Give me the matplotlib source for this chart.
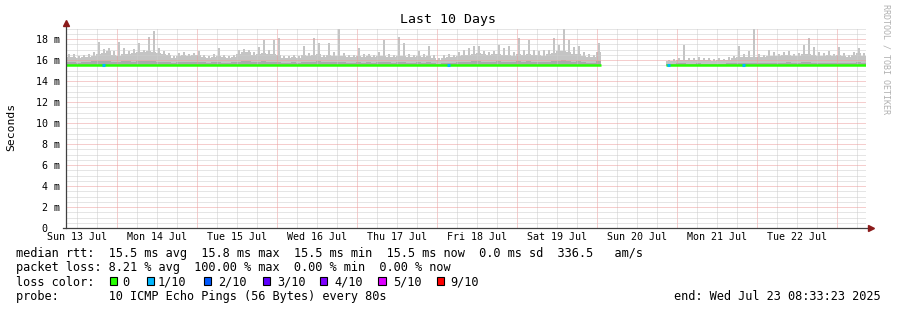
import numpy as np
import matplotlib
matplotlib.use("Agg")
import matplotlib.pyplot as plt
from matplotlib.patches import Rectangle

W, H = 897, 310
FONT = "DejaVu Sans Mono"

# time axis: hours since Sun 13 Jul 00:00, graph ends Wed 23 Jul 08:33:23
END_H = 10 * 24 + 8 + 33 / 60 + 23 / 3600
START_H = END_H - 240
STEP_H = 1.5
SEG2_FIRST = 120  # index of first step after the data gap

# smoke (ms) per 1.5 h step, first block (Jul 13 08:33 -> Jul 20 ~01:00)
seg1_top = [16.3, 16.3, 16.2, 16.3, 16.3, 16.4, 16.6, 16.7, 16.9, 16.5,
            16.4, 16.6, 16.6, 16.7, 16.8, 16.8, 16.9, 16.8, 16.7, 16.6,
            16.5, 16.2, 16.4, 16.5, 16.4, 16.5, 16.5, 16.3, 16.2, 16.3,
            16.4, 16.3, 16.2, 16.3, 16.6, 16.8, 16.8, 16.5, 16.6, 16.7,
            16.6, 16.6, 16.5, 16.2, 16.2, 16.3, 16.2, 16.5, 16.4, 16.5,
            16.6, 16.3, 16.5, 16.4, 16.4, 16.4, 16.3, 16.3, 16.4, 16.3,
            16.4, 16.3, 16.4, 16.4, 16.3, 16.3, 16.4, 16.4, 16.3, 16.3,
            16.4, 16.3, 16.4, 16.2, 16.0, 16.2, 16.3, 16.3, 16.4, 16.5,
            16.5, 16.6, 16.7, 16.6, 16.5, 16.6, 16.6, 16.5, 16.5, 16.4,
            16.6, 16.5, 16.6, 16.5, 16.5, 16.4, 16.6, 16.7, 16.9, 16.9,
            16.8, 16.6, 16.6, 16.4, 16.3, 16.3, 16.8]
seg1_spike = [16.6, 16.6, 16.4, 16.5, 16.6, 16.8, 17.7, 17.0, 17.1, 16.9,
              17.7, 17.1, 16.9, 17.0, 17.6, 17.0, 18.2, 18.8, 17.1, 16.9,
              16.7, 16.4, 16.7, 16.8, 16.6, 16.7, 16.9, 16.5, 16.4, 16.6,
              17.1, 16.5, 16.4, 16.5, 17.0, 17.05, 17.0, 16.8, 17.2, 17.9,
              17.0, 17.9, 18.1, 16.4, 16.4, 16.5, 16.4, 17.3, 16.7, 18.1,
              17.6, 16.5, 17.6, 16.8, 19.0, 16.7, 16.5, 16.5, 17.1, 16.6,
              16.6, 16.5, 16.8, 17.9, 16.6, 16.5, 18.2, 17.6, 16.6, 16.5,
              16.9, 16.6, 17.3, 16.5, 16.2, 16.5, 16.6, 16.5, 16.8, 17.0,
              17.1, 17.3, 17.3, 16.9, 16.8, 16.9, 17.4, 17.1, 17.3, 16.8,
              18.1, 17.0, 17.9, 17.0, 16.9, 17.0, 17.0, 18.1, 17.4, 19.0,
              17.9, 17.2, 17.3, 16.8, 16.6, 16.5, 17.6]
seg1_mid = [15.8, 15.8, 15.75, 15.8, 15.85, 15.9, 15.9, 15.95, 15.9, 15.85,
            15.8, 15.9, 15.9, 15.85, 15.9, 15.95, 15.9, 15.9, 15.85, 15.8,
            15.8, 15.75, 15.8, 15.85, 15.8, 15.8, 15.85, 15.8, 15.75, 15.8,
            15.8, 15.75, 15.75, 15.8, 15.85, 15.9, 15.9, 15.85, 15.85, 15.9,
            15.85, 15.85, 15.8, 15.75, 15.75, 15.8, 15.75, 15.85, 15.8, 15.85,
            15.9, 15.8, 15.85, 15.8, 15.85, 15.8, 15.75, 15.75, 15.8, 15.75,
            15.8, 15.75, 15.8, 15.85, 15.8, 15.75, 15.8, 15.85, 15.75, 15.75,
            15.8, 15.75, 15.8, 15.7, 15.65, 15.7, 15.75, 15.75, 15.8, 15.85,
            15.85, 15.9, 15.9, 15.85, 15.8, 15.85, 15.9, 15.85, 15.85, 15.8,
            15.9, 15.85, 15.9, 15.85, 15.8, 15.8, 15.85, 15.9, 15.95, 16.0,
            15.9, 15.85, 15.9, 15.8, 15.75, 15.75, 15.9]

# second block (Jul 20 ~21:00 -> end)
seg2_top = [15.9, 15.95, 16.0, 16.0, 16.0, 16.0, 16.0, 16.0, 16.0, 15.95,
            16.0, 16.0, 16.0, 16.2, 16.3, 16.3, 16.3, 16.3, 16.3, 16.3,
            16.4, 16.4, 16.4, 16.5, 16.5, 16.4, 16.4, 16.6, 16.6, 16.5,
            16.4, 16.4, 16.5, 16.4, 16.5, 16.4, 16.3, 16.5, 16.7, 16.4]
seg2_spike = [16.0, 16.1, 16.2, 17.4, 16.2, 16.2, 16.3, 16.2, 16.2, 16.1,
              16.2, 16.1, 16.3, 16.4, 17.3, 16.6, 16.9, 19.0, 16.6, 16.5,
              17.0, 16.8, 16.6, 16.8, 16.9, 16.6, 16.7, 17.4, 18.1, 17.2,
              16.8, 16.7, 16.9, 16.6, 17.2, 16.7, 16.5, 16.8, 17.1, 16.7]
seg2_mid = [15.65, 15.65, 15.7, 15.7, 15.65, 15.65, 15.7, 15.65, 15.65, 15.65,
            15.65, 15.65, 15.7, 15.7, 15.75, 15.75, 15.7, 15.75, 15.7, 15.7,
            15.75, 15.75, 15.7, 15.75, 15.8, 15.75, 15.75, 15.8, 15.8, 15.75,
            15.75, 15.7, 15.75, 15.7, 15.75, 15.7, 15.7, 15.75, 15.8, 15.75]

SMOKE_LOW = 15.45
MEDIAN_RTT = 15.55

# steps where 1 of 10 pings was lost
loss_steps = [7, 76, 120, 135]
loss_counts = [1, 1, 1, 1]

LOSS_COLORS = ["#26ff00", "#00b8ff", "#0059ff", "#5e00ff", "#7e00ff", "#dd00ff", "#ff0000"]
LOSS_LABELS = ["0", "1/10", "2/10", "3/10", "4/10", "5/10", "9/10"]
LOSS_COLOR_BY_COUNT = {0: 0, 1: 1, 2: 2, 3: 3, 4: 4, 5: 5, 9: 6}

day_names = ["Sun 13 Jul", "Mon 14 Jul", "Tue 15 Jul", "Wed 16 Jul", "Thu 17 Jul",
             "Fri 18 Jul", "Sat 19 Jul", "Sun 20 Jul", "Mon 21 Jul", "Tue 22 Jul"]

LIGHT = "#c4c4c4"
MID = "#aaaaaa"


def fx(x):
    return x / W


def fy(y):
    return 1 - y / H


def draw_segment(ax, first, top, spike, mid):
    n = len(top)
    edges = START_H + STEP_H * (first + np.arange(n + 1))
    top = np.asarray(top)
    spike = np.asarray(spike)
    mid = np.asarray(mid)
    ax.fill_between(edges, SMOKE_LOW, np.append(top, top[-1]), step="post",
                    color=LIGHT, lw=0, zorder=1)
    centers = edges[:-1] + STEP_H / 2
    up = spike > top
    ax.bar(centers[up], spike[up] - top[up], bottom=top[up], width=0.6,
           color=LIGHT, lw=0, zorder=1)
    ax.fill_between(edges, SMOKE_LOW, np.append(mid, mid[-1]), step="post",
                    color=MID, lw=0, zorder=1.5)
    ax.plot([edges[0], edges[-1]], [MEDIAN_RTT, MEDIAN_RTT], color=LOSS_COLORS[0],
            lw=1.8, solid_capstyle="butt", zorder=4)


fig = plt.figure(figsize=(W / 100, H / 100), dpi=100)
ax = fig.add_axes([fx(66), fy(228), 800 / W, (228 - 28.5) / H])
ax.set_xlim(START_H, END_H)
ax.set_ylim(0, 19.0)

draw_segment(ax, 0, seg1_top, seg1_spike, seg1_mid)
draw_segment(ax, SEG2_FIRST, seg2_top, seg2_spike, seg2_mid)

for s, c in zip(loss_steps, loss_counts):
    t = START_H + STEP_H * (s + 0.5)
    ax.plot([t - 0.35, t + 0.35], [MEDIAN_RTT, MEDIAN_RTT],
            color=LOSS_COLORS[LOSS_COLOR_BY_COUNT[c]], lw=2.2, solid_capstyle="butt", zorder=5)

# grid (rrdtool draws it over the smoke)
dot = (0, (1, 1))
for h in range(6, 252, 6):
    if START_H < h < END_H:
        major = h % 24 == 0
        ax.axvline(h, color="#ec9c9c" if major else "#cccccc", lw=0.72, ls=dot, zorder=3)
for v in np.arange(0.5, 19.01, 0.5):
    major = abs(v % 2) < 1e-9
    ax.axhline(v, color="#ec9c9c" if major else "#cccccc", lw=0.72, ls=dot, zorder=3)

for sp in ax.spines.values():
    sp.set_visible(False)

# axes with arrows
ax.plot([START_H - 1.0, END_H + 1.3], [0, 0], color="#404040", lw=0.9,
        clip_on=False, zorder=6)
ax.plot([START_H, START_H], [0, 19.5], color="#404040", lw=0.9, clip_on=False, zorder=6)
ax.plot([END_H + 1.4], [0], marker=">", ms=4, color="#8b1a1a", clip_on=False, zorder=7)
ax.plot([START_H], [19.55], marker="^", ms=4, color="#8b1a1a", clip_on=False, zorder=7)

ax.set_yticks(np.arange(0, 19, 2))
ax.set_yticklabels(["0  "] + [f"{v} m" for v in range(2, 19, 2)])
ax.set_xticks([12 + 24 * i for i in range(len(day_names))])
ax.set_xticklabels(day_names)
ax.tick_params(length=0, labelsize=7.2, labelcolor="#000000")
ax.tick_params(axis="y", pad=4.5)
ax.tick_params(axis="x", pad=3.2)
for lab in ax.get_xticklabels() + ax.get_yticklabels():
    lab.set_family(FONT)

fig.text(fx(448), fy(19), "Last 10 Days", ha="center", va="center",
         family=FONT, fontsize=9.5)
fig.text(fx(11), fy(127), "Seconds", ha="center", va="center", rotation=90,
         family=FONT, fontsize=8.2)
fig.text(fx(886), fy(4), "RRDTOOL / TOBI OETIKER", ha="center", va="top",
         rotation=270, family=FONT, fontsize=6.0, color="#b0b0b0")

LEG = 8.55
fig.text(fx(16), fy(254), "median rtt:  15.5 ms avg  15.8 ms max  15.5 ms min  "
         "15.5 ms now  0.0 ms sd  336.5   am/s", family=FONT, fontsize=LEG, va="center")
fig.text(fx(16), fy(268), "packet loss: 8.21 % avg  100.00 % max  0.00 % min  "
         "0.00 % now", family=FONT, fontsize=LEG, va="center")
fig.text(fx(16), fy(282), "loss color:", family=FONT, fontsize=LEG, va="center")
box_x = [109.5, 146.5, 203.5, 262.5, 319.5, 378, 436.5]
text_x = [122, 158, 218, 277, 334, 393, 450]
for bx, tx, col, lab in zip(box_x, text_x, LOSS_COLORS, LOSS_LABELS):
    fig.add_artist(Rectangle((fx(bx), fy(285)), 7.5 / W, 8 / H, transform=fig.transFigure,
                             facecolor=col, edgecolor="black", lw=0.8))
    fig.text(fx(tx), fy(282), lab, family=FONT, fontsize=LEG, va="center")
fig.text(fx(16), fy(296.5), "probe:       10 ICMP Echo Pings (56 Bytes) every 80s",
         family=FONT, fontsize=LEG, va="center")
fig.text(fx(881), fy(296.5), "end: Wed Jul 23 08:33:23 2025", family=FONT,
         fontsize=LEG, va="center", ha="right")

fig.savefig("out.png", dpi=100, facecolor="white")
